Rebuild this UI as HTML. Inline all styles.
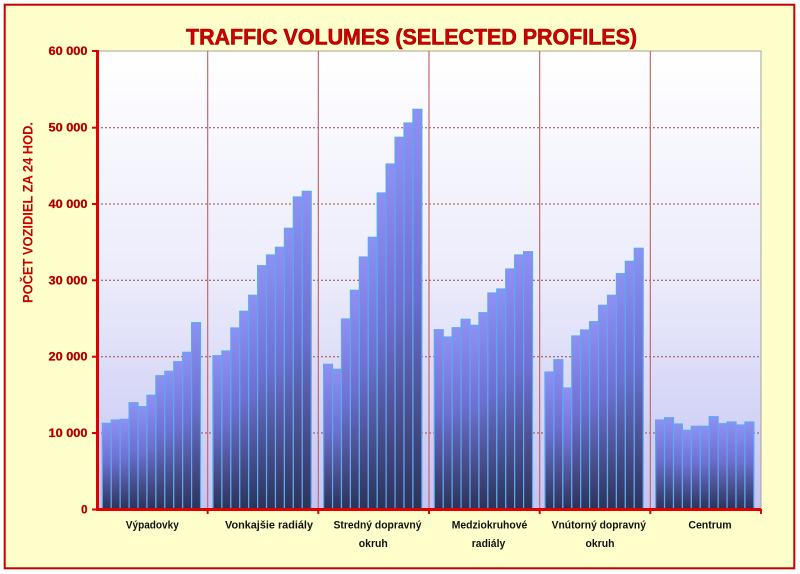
<!DOCTYPE html>
<html>
<head>
<meta charset="utf-8">
<style>
html,body{margin:0;padding:0;background:#ffffff;}
svg{display:block;}
text{font-family:"Liberation Sans",Arial,sans-serif;font-weight:bold;}
</style>
</head>
<body>
<svg width="800" height="574" viewBox="0 0 800 574" xmlns="http://www.w3.org/2000/svg">
<defs>
<linearGradient id="pbg" x1="0" y1="0" x2="0" y2="1">
<stop offset="0" stop-color="#ffffff"/>
<stop offset="0.5" stop-color="#ebebfb"/>
<stop offset="1" stop-color="#c4c4f4"/>
</linearGradient>
<linearGradient id="bar" x1="0" y1="0" x2="0" y2="1">
<stop offset="0" stop-color="#8e90f4"/>
<stop offset="0.45" stop-color="#6d70d0"/>
<stop offset="1" stop-color="#2c3358"/>
</linearGradient>
</defs>
<rect x="4.7" y="4.7" width="789.6" height="563.6" fill="#ffffcc" stroke="#c40000" stroke-width="2"/>
<text x="411.5" y="44.5" font-size="22" text-anchor="middle" textLength="451" lengthAdjust="spacingAndGlyphs" fill="#d40000" stroke="#8b0000" stroke-width="0.6">TRAFFIC VOLUMES (SELECTED PROFILES)</text>
<rect x="97" y="51" width="664" height="458" fill="url(#pbg)" stroke="#a8a0a0" stroke-width="1"/>
<g stroke="#a04848" stroke-width="1" stroke-dasharray="2 2">
<line x1="97" y1="127.7" x2="761" y2="127.7"/>
<line x1="97" y1="204" x2="761" y2="204"/>
<line x1="97" y1="280.3" x2="761" y2="280.3"/>
<line x1="97" y1="356.7" x2="761" y2="356.7"/>
<line x1="97" y1="433" x2="761" y2="433"/>
</g>
<g fill="url(#bar)" stroke="#5ea8ee" stroke-width="1.2">
<g transform="translate(97,0)">
<rect x="5.3" y="423.3" width="8.93" height="85.7"/>
<rect x="14.23" y="420" width="8.93" height="89"/>
<rect x="23.16" y="419.3" width="8.93" height="89.7"/>
<rect x="32.09" y="402.7" width="8.93" height="106.3"/>
<rect x="41.02" y="406.7" width="8.93" height="102.3"/>
<rect x="49.95" y="395.3" width="8.93" height="113.7"/>
<rect x="58.88" y="375.7" width="8.93" height="133.3"/>
<rect x="67.81" y="371.3" width="8.93" height="137.7"/>
<rect x="76.74" y="361.7" width="8.93" height="147.3"/>
<rect x="85.67" y="352.3" width="8.93" height="156.7"/>
<rect x="94.6" y="322.7" width="8.93" height="186.3"/>
</g>
<g transform="translate(207.67,0)">
<rect x="5.3" y="355.7" width="8.93" height="153.3"/>
<rect x="14.23" y="351" width="8.93" height="158"/>
<rect x="23.16" y="328" width="8.93" height="181"/>
<rect x="32.09" y="311.3" width="8.93" height="197.7"/>
<rect x="41.02" y="295.3" width="8.93" height="213.7"/>
<rect x="49.95" y="265.7" width="8.93" height="243.3"/>
<rect x="58.88" y="255" width="8.93" height="254"/>
<rect x="67.81" y="247.3" width="8.93" height="261.7"/>
<rect x="76.74" y="228.3" width="8.93" height="280.7"/>
<rect x="85.67" y="197" width="8.93" height="312"/>
<rect x="94.6" y="191.3" width="8.93" height="317.7"/>
</g>
<g transform="translate(318.33,0)">
<rect x="5.3" y="364.3" width="8.93" height="144.7"/>
<rect x="14.23" y="369.3" width="8.93" height="139.7"/>
<rect x="23.16" y="319" width="8.93" height="190"/>
<rect x="32.09" y="290.3" width="8.93" height="218.7"/>
<rect x="41.02" y="257" width="8.93" height="252"/>
<rect x="49.95" y="237.3" width="8.93" height="271.7"/>
<rect x="58.88" y="193" width="8.93" height="316"/>
<rect x="67.81" y="164" width="8.93" height="345"/>
<rect x="76.74" y="137.3" width="8.93" height="371.7"/>
<rect x="85.67" y="123" width="8.93" height="386"/>
<rect x="94.6" y="109.3" width="8.93" height="399.7"/>
</g>
<g transform="translate(429,0)">
<rect x="5.3" y="329.7" width="8.93" height="179.3"/>
<rect x="14.23" y="337" width="8.93" height="172"/>
<rect x="23.16" y="327.7" width="8.93" height="181.3"/>
<rect x="32.09" y="319.3" width="8.93" height="189.7"/>
<rect x="41.02" y="325.3" width="8.93" height="183.7"/>
<rect x="49.95" y="312.7" width="8.93" height="196.3"/>
<rect x="58.88" y="293" width="8.93" height="216"/>
<rect x="67.81" y="289" width="8.93" height="220"/>
<rect x="76.74" y="269" width="8.93" height="240"/>
<rect x="85.67" y="255" width="8.93" height="254"/>
<rect x="94.6" y="251.7" width="8.93" height="257.3"/>
</g>
<g transform="translate(539.67,0)">
<rect x="5.3" y="372" width="8.93" height="137"/>
<rect x="14.23" y="359.7" width="8.93" height="149.3"/>
<rect x="23.16" y="388" width="8.93" height="121"/>
<rect x="32.09" y="336" width="8.93" height="173"/>
<rect x="41.02" y="330" width="8.93" height="179"/>
<rect x="49.95" y="321.7" width="8.93" height="187.3"/>
<rect x="58.88" y="305.3" width="8.93" height="203.7"/>
<rect x="67.81" y="295.3" width="8.93" height="213.7"/>
<rect x="76.74" y="273.7" width="8.93" height="235.3"/>
<rect x="85.67" y="261.3" width="8.93" height="247.7"/>
<rect x="94.6" y="248.3" width="8.93" height="260.7"/>
</g>
<g transform="translate(650.33,0)">
<rect x="5.3" y="420" width="8.93" height="89"/>
<rect x="14.23" y="417.7" width="8.93" height="91.3"/>
<rect x="23.16" y="424" width="8.93" height="85"/>
<rect x="32.09" y="430.3" width="8.93" height="78.7"/>
<rect x="41.02" y="426.3" width="8.93" height="82.7"/>
<rect x="49.95" y="426.3" width="8.93" height="82.7"/>
<rect x="58.88" y="416.7" width="8.93" height="92.3"/>
<rect x="67.81" y="423.7" width="8.93" height="85.3"/>
<rect x="76.74" y="422" width="8.93" height="87"/>
<rect x="85.67" y="425" width="8.93" height="84"/>
<rect x="94.6" y="422" width="8.93" height="87"/>
</g>
</g>
<g stroke="#c46a6a" stroke-width="1.2">
<line x1="207.67" y1="51" x2="207.67" y2="509"/>
<line x1="318.33" y1="51" x2="318.33" y2="509"/>
<line x1="429" y1="51" x2="429" y2="509"/>
<line x1="539.67" y1="51" x2="539.67" y2="509"/>
<line x1="650.33" y1="51" x2="650.33" y2="509"/>
</g>
<g stroke="#e00000" stroke-width="3">
<line x1="97.5" y1="50" x2="97.5" y2="510.5"/>
<line x1="96" y1="509.5" x2="761" y2="509.5"/>
</g>
<g stroke="#e00000" stroke-width="2">
<line x1="92" y1="51" x2="97" y2="51"/>
<line x1="92" y1="127.7" x2="97" y2="127.7"/>
<line x1="92" y1="204" x2="97" y2="204"/>
<line x1="92" y1="280.3" x2="97" y2="280.3"/>
<line x1="92" y1="356.7" x2="97" y2="356.7"/>
<line x1="92" y1="433" x2="97" y2="433"/>
<line x1="92" y1="509.5" x2="97" y2="509.5"/>
<line x1="207.67" y1="509" x2="207.67" y2="514"/>
<line x1="318.33" y1="509" x2="318.33" y2="514"/>
<line x1="429" y1="509" x2="429" y2="514"/>
<line x1="539.67" y1="509" x2="539.67" y2="514"/>
<line x1="650.33" y1="509" x2="650.33" y2="514"/>
<line x1="761" y1="509" x2="761" y2="514"/>
</g>
<g font-size="11.5" fill="#a80000" stroke="#d00000" stroke-width="0.3" text-anchor="end">
<text x="87.5" y="55" textLength="39" lengthAdjust="spacingAndGlyphs">60 000</text>
<text x="87.5" y="131.7" textLength="39" lengthAdjust="spacingAndGlyphs">50 000</text>
<text x="87.5" y="208" textLength="39" lengthAdjust="spacingAndGlyphs">40 000</text>
<text x="87.5" y="284.3" textLength="39" lengthAdjust="spacingAndGlyphs">30 000</text>
<text x="87.5" y="360.7" textLength="39" lengthAdjust="spacingAndGlyphs">20 000</text>
<text x="87.5" y="437" textLength="39" lengthAdjust="spacingAndGlyphs">10 000</text>
<text x="87.5" y="513.5">0</text>
</g>
<text transform="translate(32.5,212.5) rotate(-90)" x="0" y="0" font-size="14" text-anchor="middle" textLength="181" lengthAdjust="spacingAndGlyphs" fill="#c80000">POČET VOZIDIEL ZA 24 HOD.</text>
<g font-size="11" fill="#111111" text-anchor="middle">
<text x="152.3" y="528.5" textLength="53" lengthAdjust="spacingAndGlyphs">Výpadovky</text>
<text x="269" y="528.5" textLength="88" lengthAdjust="spacingAndGlyphs">Vonkajšie radiály</text>
<text x="377.5" y="528.5" textLength="88" lengthAdjust="spacingAndGlyphs">Stredný dopravný</text>
<text x="373.3" y="547" textLength="29" lengthAdjust="spacingAndGlyphs">okruh</text>
<text x="489.5" y="528.5" textLength="75.6" lengthAdjust="spacingAndGlyphs">Medziokruhové</text>
<text x="488.5" y="547" textLength="33.5" lengthAdjust="spacingAndGlyphs">radiály</text>
<text x="598.8" y="528.5" textLength="94.3" lengthAdjust="spacingAndGlyphs">Vnútorný dopravný</text>
<text x="600" y="547" textLength="29" lengthAdjust="spacingAndGlyphs">okruh</text>
<text x="710" y="528.5" textLength="43.3" lengthAdjust="spacingAndGlyphs">Centrum</text>
</g>
</svg>
</body>
</html>
